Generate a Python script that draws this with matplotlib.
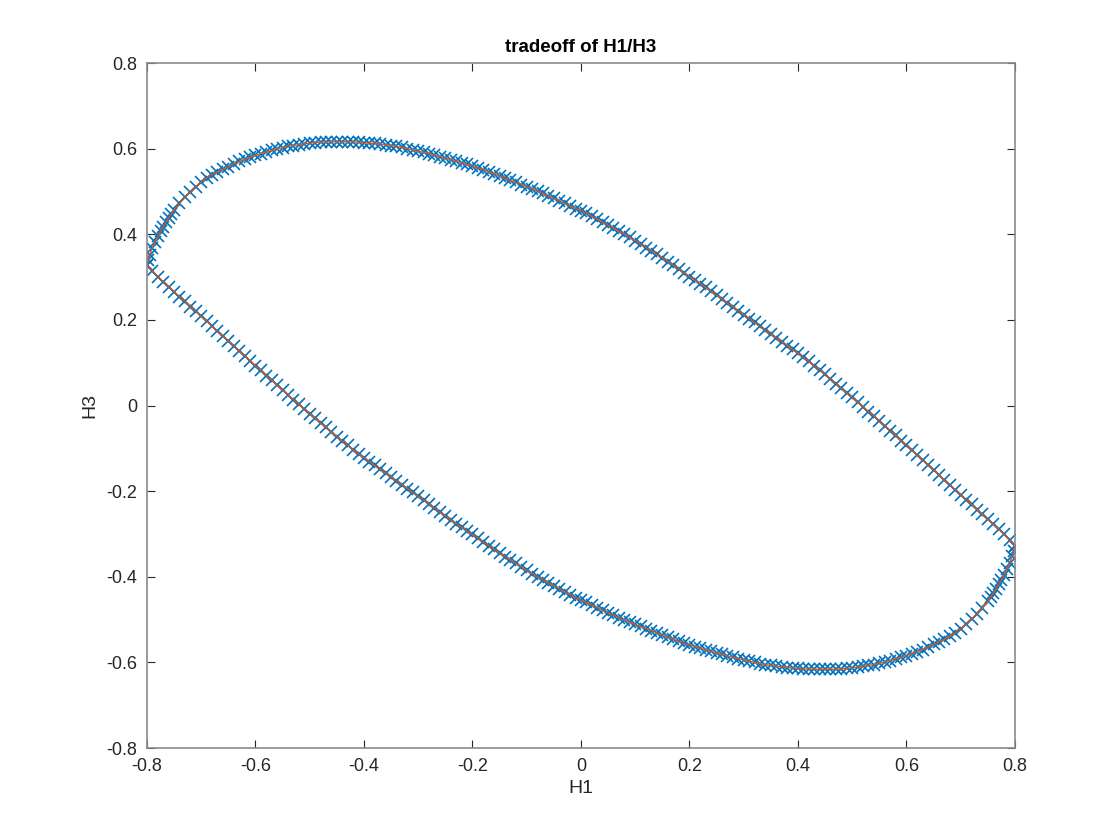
import matplotlib
matplotlib.use('Agg')
import matplotlib.pyplot as plt
import numpy as np

plt.rcParams['font.family'] = ['Liberation Sans', 'DejaVu Sans']
plt.rcParams['axes.unicode_minus'] = False

# upper branch of the H1/H3 tradeoff curve
h1_upper = [-0.800, -0.798, -0.795, -0.790, -0.785, -0.780, -0.775, -0.770, -0.765, -0.760, -0.755,
            -0.75, -0.74, -0.73, -0.72, -0.71, -0.70, -0.69, -0.68, -0.67, -0.66,
            -0.65, -0.64, -0.63, -0.62, -0.61, -0.60, -0.59, -0.58, -0.57, -0.56,
            -0.55, -0.54, -0.53, -0.52, -0.51, -0.50, -0.49, -0.48, -0.47, -0.46,
            -0.45, -0.44, -0.43, -0.42, -0.41, -0.40, -0.39, -0.38, -0.37, -0.36,
            -0.35, -0.34, -0.33, -0.32, -0.31, -0.30, -0.29, -0.28, -0.27, -0.26,
            -0.25, -0.24, -0.23, -0.22, -0.21, -0.20, -0.19, -0.18, -0.17, -0.16,
            -0.15, -0.14, -0.13, -0.12, -0.11, -0.10, -0.09, -0.08, -0.07, -0.06,
            -0.05, -0.04, -0.03, -0.02, -0.01, 0.00, 0.01, 0.02, 0.03, 0.04,
            0.05, 0.06, 0.07, 0.08, 0.09, 0.10, 0.11, 0.12, 0.13, 0.14,
            0.15, 0.16, 0.17, 0.18, 0.19, 0.20, 0.21, 0.22, 0.23, 0.24,
            0.25, 0.26, 0.27, 0.28, 0.29, 0.30, 0.31, 0.32, 0.33, 0.34,
            0.35, 0.36, 0.37, 0.38, 0.39, 0.40, 0.41, 0.42, 0.43, 0.44,
            0.45, 0.46, 0.47, 0.48, 0.49, 0.50, 0.51, 0.52, 0.53, 0.54,
            0.55, 0.56, 0.57, 0.58, 0.59, 0.60, 0.61, 0.62, 0.63, 0.64,
            0.65, 0.66, 0.67, 0.68, 0.69, 0.70, 0.71, 0.72, 0.73, 0.74,
            0.75, 0.76, 0.77, 0.78, 0.79, 0.80]
h3_upper = [0.328, 0.340, 0.352, 0.368, 0.382, 0.395, 0.407, 0.418, 0.428, 0.438, 0.448,
            0.457, 0.472, 0.486, 0.499, 0.511, 0.521, 0.531, 0.539, 0.546, 0.552,
            0.558, 0.564, 0.570, 0.575, 0.580, 0.584, 0.588, 0.592, 0.596, 0.599,
            0.602, 0.605, 0.607, 0.609, 0.611, 0.613, 0.614, 0.615, 0.616, 0.616,
            0.616, 0.616, 0.616, 0.616, 0.615, 0.614, 0.613, 0.612, 0.611, 0.609,
            0.607, 0.605, 0.603, 0.600, 0.597, 0.594, 0.591, 0.588, 0.585, 0.581,
            0.578, 0.574, 0.571, 0.567, 0.563, 0.559, 0.555, 0.551, 0.546, 0.541,
            0.536, 0.531, 0.526, 0.521, 0.516, 0.511, 0.506, 0.501, 0.496, 0.490,
            0.484, 0.478, 0.472, 0.466, 0.460, 0.455, 0.449, 0.442, 0.435, 0.428,
            0.421, 0.414, 0.407, 0.400, 0.393, 0.385, 0.377, 0.369, 0.361, 0.353,
            0.345, 0.336, 0.328, 0.319, 0.310, 0.301, 0.293, 0.284, 0.276, 0.267,
            0.258, 0.249, 0.239, 0.230, 0.221, 0.212, 0.203, 0.194, 0.185, 0.176,
            0.167, 0.158, 0.149, 0.140, 0.131, 0.122, 0.113, 0.103, 0.093, 0.083,
            0.073, 0.062, 0.051, 0.040, 0.030, 0.019, 0.008, -0.003, -0.014, -0.025,
            -0.036, -0.047, -0.059, -0.070, -0.082, -0.093, -0.105, -0.116, -0.128, -0.139,
            -0.151, -0.162, -0.174, -0.185, -0.197, -0.208, -0.220, -0.231, -0.243, -0.254,
            -0.266, -0.277, -0.289, -0.301, -0.315, -0.328]

# the curve is point-symmetric: lower branch mirrors the upper one through the origin
h1 = np.concatenate([h1_upper, -np.array(h1_upper)])
h3 = np.concatenate([h3_upper, -np.array(h3_upper)])

ticks = [-0.8, -0.6, -0.4, -0.2, 0, 0.2, 0.4, 0.6, 0.8]
tick_labels = ['-0.8', '-0.6', '-0.4', '-0.2', '0', '0.2', '0.4', '0.6', '0.8']

fig = plt.figure(figsize=(11.2, 8.4), dpi=100)
ax = fig.add_axes([0.1312, 0.1095, 0.7750, 0.8155])

ax.plot(h1, h3, 'x', color='#0072BD', ms=8.5, mew=1.2)
ax.plot(h1, h3, '-', color='#D95319', lw=1.0)

ax.set_xlim(-0.8, 0.8)
ax.set_ylim(-0.8, 0.8)
ax.set_xticks(ticks)
ax.set_xticklabels(tick_labels)
ax.set_yticks(ticks)
ax.set_yticklabels(tick_labels)
ax.tick_params(direction='in', length=6, width=0.8, color='#262626', labelcolor='#262626',
               labelsize=13, top=True, right=True, pad=7)
for s in ax.spines.values():
    s.set_color('#8a8a8a')
    s.set_linewidth(1.2)

ax.set_title('tradeoff of H1/H3', fontsize=13.5, fontweight='bold', pad=8)
ax.set_xlabel('H1', fontsize=14, color='#262626', labelpad=4)
ax.set_ylabel('H3', fontsize=14, color='#262626', labelpad=6)

fig.savefig('out.png', dpi=100, facecolor='white')
